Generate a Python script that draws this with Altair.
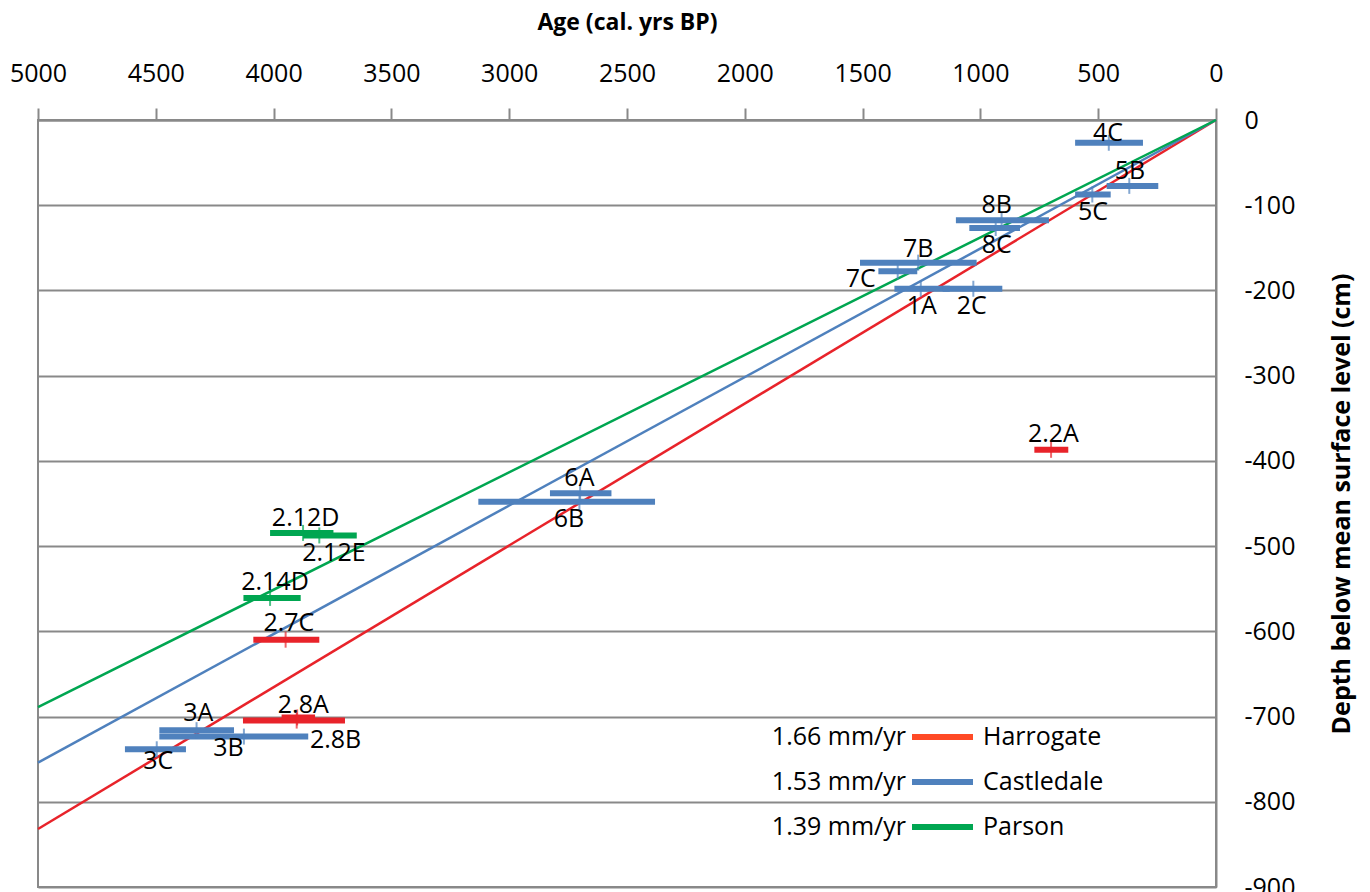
import altair as alt
import pandas as pd

# ---- data ----
sites = ["Harrogate", "Castledale", "Parson"]
site_colors = ["#E8232A", "#4F81BD", "#00A651"]
legend_colors = ["#FF4A26", "#4F81BD", "#00A651"]
rate_texts = ["1.66 mm/yr", "1.53 mm/yr", "1.39 mm/yr"]

line_ages = [0, 5000]
line_end_depths = [-832, -754, -689]

sample_names = ["4C", "5B", "5C", "8B", "8C", "7B", "7C", "1A", "2C", "6A", "6B",
                "3A", "3B", "3C", "2.2A", "2.7C", "2.8A", "2.8B", "2.12D", "2.12E", "2.14D"]
sample_sites = ["Castledale"] * 14 + ["Harrogate"] * 4 + ["Parson"] * 3
age_old = [598, 464, 598, 1104, 1047, 1511, 1433, 1365, 1160, 2827, 3131,
           4485, 4485, 4631, 771, 4086, 4130, 3966, 4015, 3875, 4128]
age_young = [310, 245, 447, 709, 832, 1016, 1268, 1130, 907, 2566, 2381,
             4168, 3853, 4372, 627, 3806, 3697, 3824, 3746, 3647, 3885]
age_mid = [455, 368, 525, 910, 935, 1264, 1351, 1253, 1030, 2699, 2702,
           4327, 4126, 4496, 700, 3949, 3902, 3900, 3875, 3806, 4015]
depth = [-26.7, -77.3, -87.4, -117.6, -126.7, -167.4, -177.6, -198, -198, -438, -447.9,
         -716, -723.5, -738.4, -387, -609.8, -704.7, -701, -484.5, -487.5, -560.8]
label_age = [458, 365, 522, 931, 931, 1264, 1508, 1249, 1037, 2702, 2746,
             4320, 4192, 4490, 690, 3935, 3874, 3737, 3864, 3744, 3994]
label_depth = [-15.3, -59.6, -107.9, -99.2, -147, -151.8, -186, -218.8, -218.8, -420.4, -468.6,
               -696, -737.3, -752, -368.6, -590.2, -686.3, -727.4, -466.7, -507.8, -542]

# ---- tables ----
lines_df = pd.DataFrame(
    [{"site": s, "age": a, "depth": (0 if a == 0 else e)}
     for s, e in zip(sites, line_end_depths) for a in line_ages]
)
samples_df = pd.DataFrame({
    "name": sample_names, "site": sample_sites, "age_old": age_old,
    "age_young": age_young, "age_mid": age_mid, "depth": depth,
    "label_age": label_age, "label_depth": label_depth,
})
legend_df = pd.DataFrame({"site": sites, "rate": rate_texts, "lcolor": legend_colors,
                          "row": list(range(len(sites)))})

GRAY = "#898989"
FONT = "Open Sans"

color = alt.Color("site:N", scale=alt.Scale(domain=sites, range=site_colors), legend=None)

x_axis = alt.Axis(orient="top", values=list(range(0, 5001, 500)),
                  labelExpr="'' + datum.value",
                  title="Age (cal. yrs BP)", grid=False, tickSize=12, tickColor=GRAY,
                  tickWidth=2, domainColor=GRAY, domainWidth=2, labelFontSize=25,
                  labelFont=FONT, labelColor="black", labelPadding=22, labelFlush=False,
                  labelOverlap=False, titleFont=FONT, titleFontSize=23,
                  titleFontWeight="bold", titleColor="black", titlePadding=27)
y_axis = alt.Axis(orient="right", values=list(range(-900, 1, 100)),
                  labelExpr="'' + datum.value",
                  title="Depth below mean surface level (cm)", grid=True, gridColor=GRAY,
                  gridWidth=2, ticks=False, domainColor=GRAY, domainWidth=2,
                  labelFontSize=25, labelFont=FONT, labelColor="black", labelPadding=28,
                  labelFlush=False, labelOverlap=False, titleFont=FONT, titleFontSize=25,
                  titleFontWeight="bold", titleColor="black", titleAngle=270, titlePadding=60)

xscale = alt.Scale(domain=[0, 5000], reverse=True, nice=False, zero=False)
yscale = alt.Scale(domain=[-900, 0], nice=False, zero=False)

lines = alt.Chart(lines_df).mark_line(strokeWidth=2.5).encode(
    x=alt.X("age:Q", scale=xscale, axis=x_axis),
    y=alt.Y("depth:Q", scale=yscale, axis=y_axis),
    color=color, detail="site:N",
)

bars = alt.Chart(samples_df).mark_rule(strokeWidth=6).encode(
    x=alt.X("age_old:Q", scale=xscale), x2="age_young:Q",
    y=alt.Y("depth:Q", scale=yscale), color=color,
)

ticks = alt.Chart(samples_df).mark_tick(orient="vertical", size=16, thickness=2).encode(
    x=alt.X("age_mid:Q", scale=xscale), y=alt.Y("depth:Q", scale=yscale), color=color,
)

labels = alt.Chart(samples_df).mark_text(fontSize=25, font=FONT, color="black",
                                          align="center", baseline="middle").encode(
    x=alt.X("label_age:Q", scale=xscale), y=alt.Y("label_depth:Q", scale=yscale),
    text="name:N",
)

# custom legend (bottom right inside the plot)
leg_base = alt.Chart(legend_df).transform_calculate(py="617 + 45 * datum.row")
leg_rate = leg_base.mark_text(fontSize=25, font=FONT, color="black", align="right",
                              baseline="middle").encode(
    x=alt.value(868), y=alt.Y("py:Q", scale=None), text="rate:N")
leg_line = leg_base.mark_rule(strokeWidth=6).encode(
    x=alt.value(874), x2=alt.value(935), y=alt.Y("py:Q", scale=None),
    color=alt.Color("lcolor:N", scale=None))
leg_name = leg_base.mark_text(fontSize=25, font=FONT, color="black", align="left",
                              baseline="middle").encode(
    x=alt.value(945), y=alt.Y("py:Q", scale=None), text="site:N")

chart = alt.layer(lines, bars, ticks, labels, leg_rate, leg_line, leg_name).resolve_scale(
    color="independent"
).properties(
    width=1178, height=767, autosize="none",
    padding={"left": 38, "top": 120, "right": 154, "bottom": 5},
    background="white",
).configure_view(stroke=GRAY, strokeWidth=2)

chart.save("out.html", embed_options={"renderer": "svg", "actions": False})
